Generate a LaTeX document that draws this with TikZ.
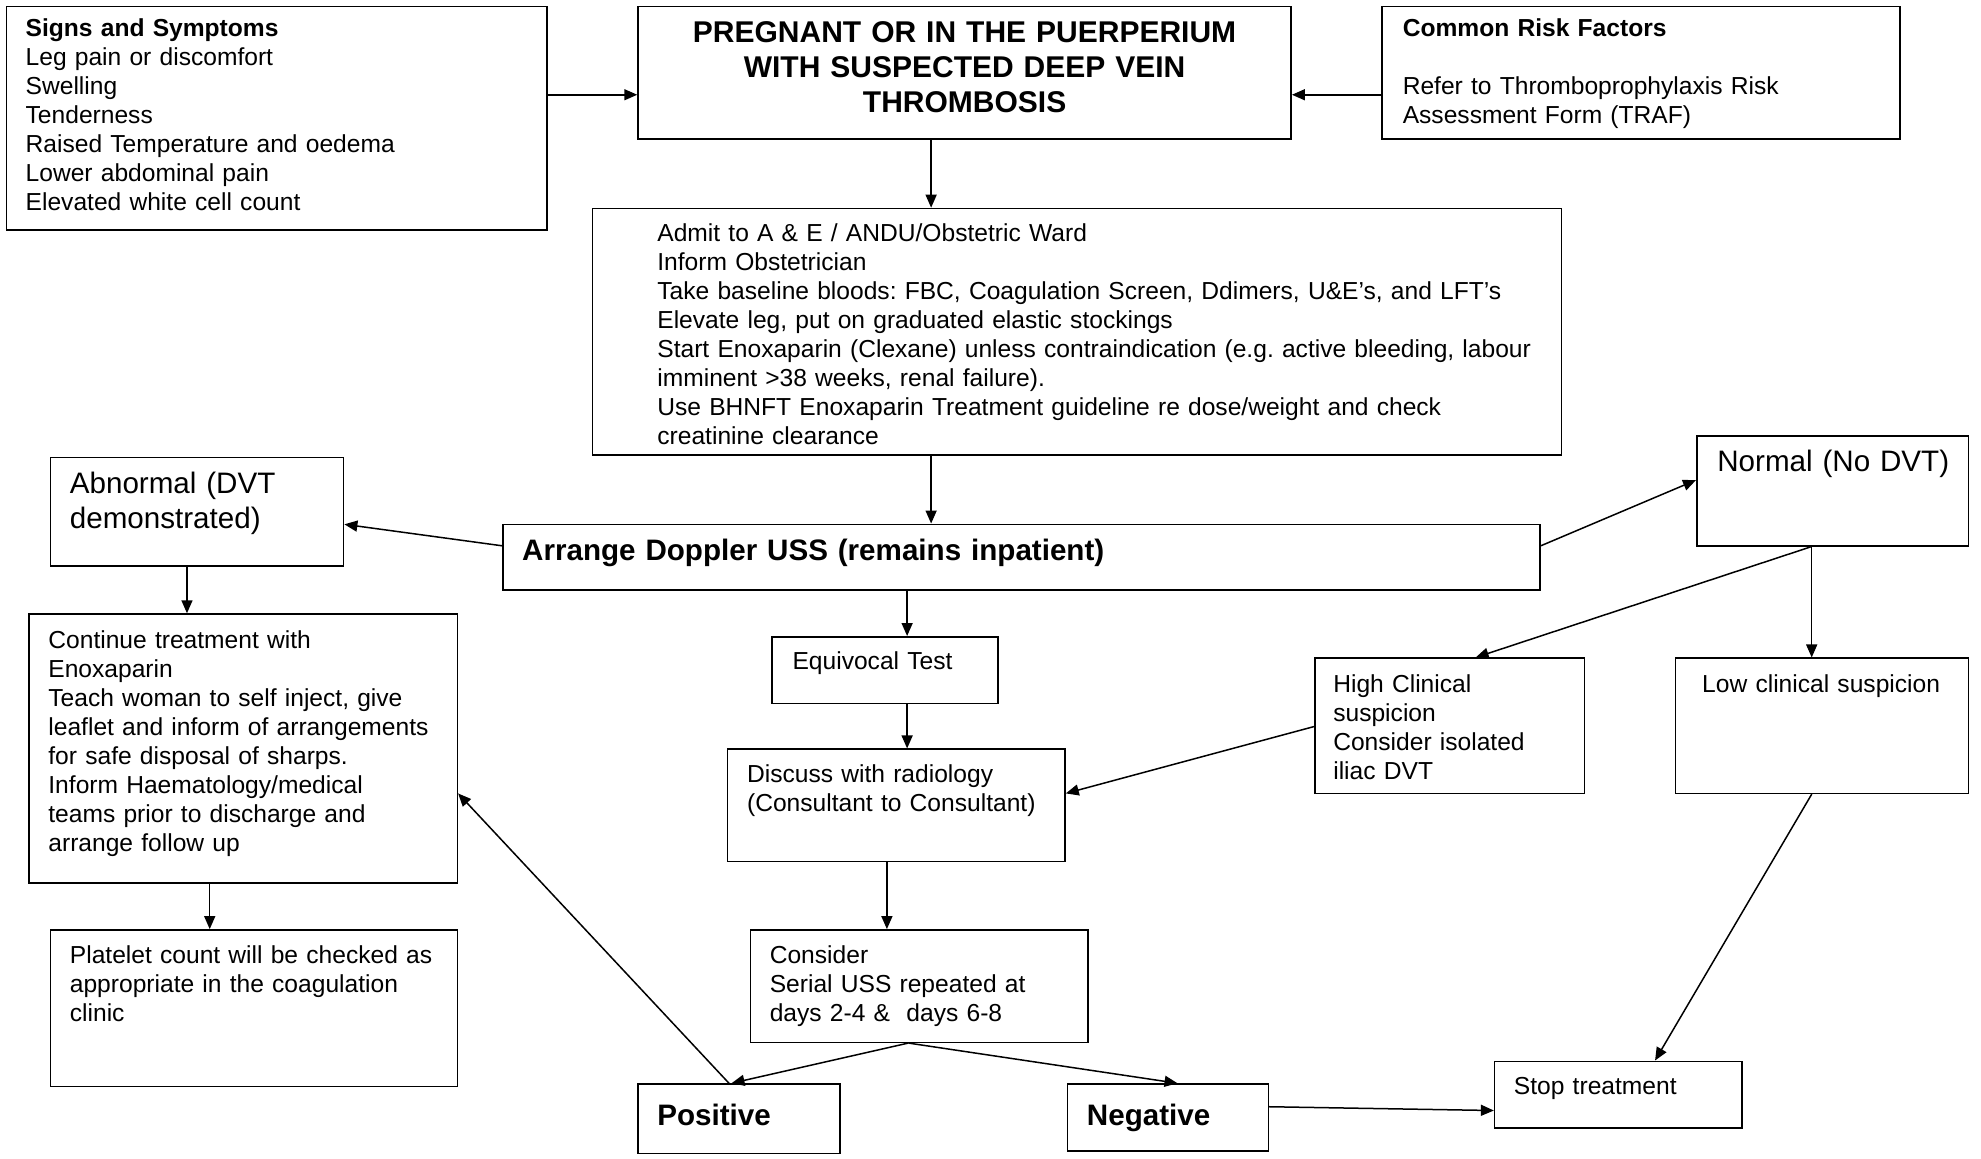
\documentclass[tikz,border=0pt]{standalone}
\usepackage{fontspec}
\setmainfont{Liberation Sans}
\usetikzlibrary{fit,arrows.meta}
\frenchspacing
\begin{document}
\begin{tikzpicture}[x=0.6318pt,y=-0.6318pt,
  box/.style={draw,line width=0.75pt,inner sep=0pt},
  txt/.style={inner sep=0pt,anchor=base west,align=left,text width=470pt,font=\fontsize{12.3}{14.5}\selectfont},
  big/.style={txt,font=\fontsize{14.8}{17.2}\selectfont},
  bigb/.style={txt,font=\bfseries\fontsize{14.8}{17.2}\selectfont},
  arr/.style={line width=0.75pt,-{Triangle[length=6.5pt,width=5.5pt]}}]
\useasboundingbox[fill=white] (0,0) rectangle (1568,917);

% boxes
\node[box,fit={(5,5) (433,182)}] (sig) {};
\node[box,fit={(505,5) (1022,110)}] (main) {};
\node[box,fit={(1094,5) (1504,110)}] (risk) {};
\node[box,fit={(469,165) (1236,360)}] (admit) {};
\node[box,fit={(40,362) (272,448)}] (abn) {};
\node[box,fit={(398,415) (1219,467)}] (dop) {};
\node[box,fit={(1343,345) (1558,432)}] (norm) {};
\node[box,fit={(23,486) (362,699)}] (cont) {};
\node[box,fit={(611,504) (790,557)}] (equ) {};
\node[box,fit={(1041,521) (1254,628)}] (high) {};
\node[box,fit={(1326,521) (1558,628)}] (low) {};
\node[box,fit={(576,593) (843,682)}] (disc) {};
\node[box,fit={(40,736) (362,860)}] (plat) {};
\node[box,fit={(594,736) (861,825)}] (cons) {};
\node[box,fit={(505,858) (665,913)}] (pos) {};
\node[box,fit={(845,858) (1004,911)}] (neg) {};
\node[box,fit={(1183,840) (1379,893)}] (stop) {};

% texts
\node[txt] (sig-t) at (20,29) {{\bfseries Signs and Symptoms}\\Leg pain or discomfort\\Swelling\\Tenderness\\Raised Temperature and oedema\\Lower abdominal pain\\Elevated white cell count};
\node[inner sep=0pt,anchor=base,align=center,text width=310pt,font=\bfseries\fontsize{15}{17.4}\selectfont] (main-t) at (763.5,34) {PREGNANT OR IN THE PUERPERIUM\\WITH SUSPECTED DEEP VEIN\\THROMBOSIS};
\node[txt] (risk-t) at (1110,29) {{\bfseries Common Risk Factors}\\[14.5pt]Refer to Thromboprophylaxis Risk\\Assessment Form (TRAF)};
\node[txt] (admit-t) at (520,191) {Admit to A \& E / ANDU/Obstetric Ward\\Inform Obstetrician\\Take baseline bloods: FBC, Coagulation Screen, Ddimers, U\&E’s, and LFT’s\\Elevate leg, put on graduated elastic stockings\\Start Enoxaparin (Clexane) unless contraindication (e.g. active bleeding, labour\\imminent >38 weeks, renal failure).\\Use BHNFT Enoxaparin Treatment guideline re dose/weight and check\\creatinine clearance};
\node[big] (abn-t) at (55,391) {Abnormal (DVT\\demonstrated)};
\node[bigb] (dop-t) at (413,444) {Arrange Doppler USS (remains inpatient)};
\node[big] (norm-t) at (1359,373) {Normal (No DVT)};
\node[txt] (cont-t) at (38,513) {Continue treatment with\\Enoxaparin\\Teach woman to self inject, give\\leaflet and inform of arrangements\\for safe disposal of sharps.\\Inform Haematology/medical\\teams prior to discharge and\\arrange follow up};
\node[txt] (equ-t) at (627,530) {Equivocal Test};
\node[txt] (high-t) at (1055,548) {High Clinical\\suspicion\\Consider isolated\\iliac DVT};
\node[txt] (low-t) at (1347,548) {Low clinical suspicion};
\node[txt] (disc-t) at (591,619) {Discuss with radiology\\(Consultant to Consultant)};
\node[txt] (plat-t) at (55,763) {Platelet count will be checked as\\appropriate in the coagulation\\clinic};
\node[txt] (cons-t) at (609,763) {Consider\\Serial USS repeated at\\days 2-4 \&\ \ days 6-8};
\node[bigb] (pos-t) at (520,891) {Positive};
\node[bigb] (neg-t) at (860,891) {Negative};
\node[txt] (stop-t) at (1198,866) {Stop treatment};

% connectors
\draw[arr] (sig.east |- 0,75) -- (main.west |- 0,75);
\draw[arr] (risk.west |- 0,75) -- (main.east |- 0,75);
\draw[arr] (main.south -| 737,0) -- (admit.north -| 737,0);
\draw[arr] (admit.south -| 737,0) -- (dop.north -| 737,0);
\draw[arr] (dop.west |- 0,432) -- (abn.east |- 0,415);
\draw[arr] (dop.east |- 0,432) -- (norm.west |- 0,380);
\draw[arr] (abn.south -| 148,0) -- (cont.north -| 148,0);
\draw[arr] (dop.south -| 718,0) -- (equ.north -| 718,0);
\draw[arr] (equ.south -| 718,0) -- (disc.north -| 718,0);
\draw[arr] (norm.south -| 1434,0) -- (low.north -| 1434,0);
\draw[arr] (norm.south -| 1434,0) -- (high.north -| 1168,0);
\draw[arr] (high.west |- 0,575) -- (disc.east |- 0,628);
\draw[arr] (disc.south -| 702,0) -- (cons.north -| 702,0);
\draw[arr] (cont.south -| 166,0) -- (plat.north -| 166,0);
\draw[arr] (cons.south -| 719,0) -- (pos.north -| 579,0);
\draw[arr] (cons.south -| 719,0) -- (neg.north -| 932,0);
\draw[arr] (pos.north -| 577,0) -- (cont.east |- 0,628);
\draw[arr] (low.south -| 1434,0) -- (stop.north -| 1310,0);
\draw[arr] (neg.east |- 0,876) -- (stop.west |- 0,879);
\end{tikzpicture}
\end{document}
